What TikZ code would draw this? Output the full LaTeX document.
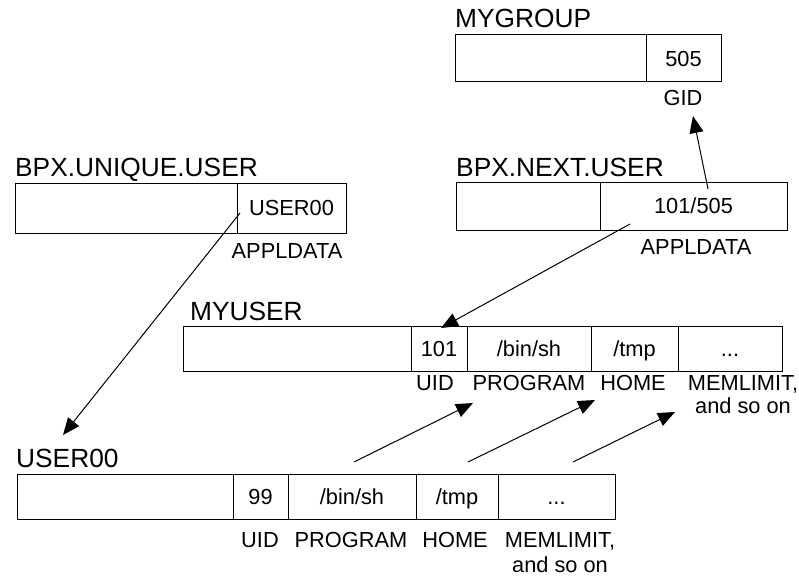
\documentclass[tikz,border=0pt]{standalone}
\usepackage{fontspec}
\setmainfont{Liberation Sans}
\usetikzlibrary{arrows.meta}
\newcommand\cellbox[6]{\node[cell, minimum width={#3-#2}, minimum height={#5-#4}] (#1) at ({(#2+#3)/2},{(#4+#5)/2}) {#6};}
\begin{document}
\begin{tikzpicture}[x=1pt,y=-1pt,
  cell/.style={draw, line width=1pt, inner sep=0pt, font=\fontsize{21.8}{21.8}\selectfont, text height=15.5pt, text depth=0pt},
  title/.style={anchor=base west, inner sep=0pt, font=\fontsize{26.3}{26.3}\selectfont},
  lbl/.style={anchor=base, inner sep=0pt, font=\fontsize{21.8}{21.8}\selectfont, align=center},
  ptr/.style={line width=1pt, -{Triangle[length=17pt,width=14pt]}}]
\useasboundingbox (0,0) rectangle (799,575);

% MYGROUP
\node[title] (tg) at (455,28) {MYGROUP};
\cellbox{g1}{455}{646}{35}{82}{}
\cellbox{g2}{646}{721}{35}{82}{505}
\node[lbl] (gid) at (683,106) {GID};

% BPX.NEXT.USER
\node[title] (tn) at (456,176) {BPX.NEXT.USER};
\cellbox{n1}{456}{600}{182}{230}{}
\cellbox{n2}{600}{787}{182}{230}{101/505}
\node[lbl] (nap) at (696,254) {APPLDATA};

% BPX.UNIQUE.USER
\node[title] (tu) at (15,176) {BPX.UNIQUE.USER};
\cellbox{u1}{15}{237}{183}{233}{}
\cellbox{u2}{237}{346}{183}{233}{USER00}
\node[lbl] (uap) at (287,258) {APPLDATA};

% MYUSER
\node[title] (tm) at (190,320) {MYUSER};
\cellbox{m0}{183}{411}{326}{371}{}
\cellbox{m1}{411}{467}{326}{371}{101}
\cellbox{m2}{467}{591}{326}{371}{/bin/sh}
\cellbox{m3}{591}{678}{326}{371}{/tmp}
\cellbox{m4}{678}{782}{326}{371}{...}
\node[lbl] (muid) at (435,390) {UID};
\node[lbl] (mprog) at (529,390) {PROGRAM};
\node[lbl] (mhome) at (633,390) {HOME};
\node[lbl] (mmem) at (743,390) {MEMLIMIT,};
\node[lbl] (mso) at (743,413) {and so on};

% USER00
\node[title] (ts) at (16,467) {USER00};
\cellbox{s0}{17}{233}{474}{519}{}
\cellbox{s1}{233}{288}{474}{519}{99}
\cellbox{s2}{288}{416}{474}{519}{/bin/sh}
\cellbox{s3}{416}{498}{474}{519}{/tmp}
\cellbox{s4}{498}{615}{474}{519}{...}
\node[lbl] (suid) at (260,547) {UID};
\node[lbl] (sprog) at (351,547) {PROGRAM};
\node[lbl] (shome) at (455,547) {HOME};
\node[lbl] (smem) at (560,547) {MEMLIMIT,};
\node[lbl] (sso) at (560,572) {and so on};

% connector end points
\coordinate (a1s) at (240,213);
\coordinate (a1e) at (63,435);
\coordinate (a2s) at (630,224);
\coordinate (a2e) at (441,328);
\coordinate (a3s) at (708,189);
\coordinate (a3e) at (693,116);
\coordinate (b1s) at (354,462);
\coordinate (b1e) at (473,403);
\coordinate (b2s) at (468,462);
\coordinate (b2e) at (595,400);
\coordinate (b3s) at (573,462);
\coordinate (b3e) at (675,412);

\draw[ptr] (a1s) -- (a1e);
\draw[ptr] (a2s) -- (a2e);
\draw[ptr] (a3s) -- (a3e);
\draw[ptr] (b1s) -- (b1e);
\draw[ptr] (b2s) -- (b2e);
\draw[ptr] (b3s) -- (b3e);
\end{tikzpicture}
\end{document}
